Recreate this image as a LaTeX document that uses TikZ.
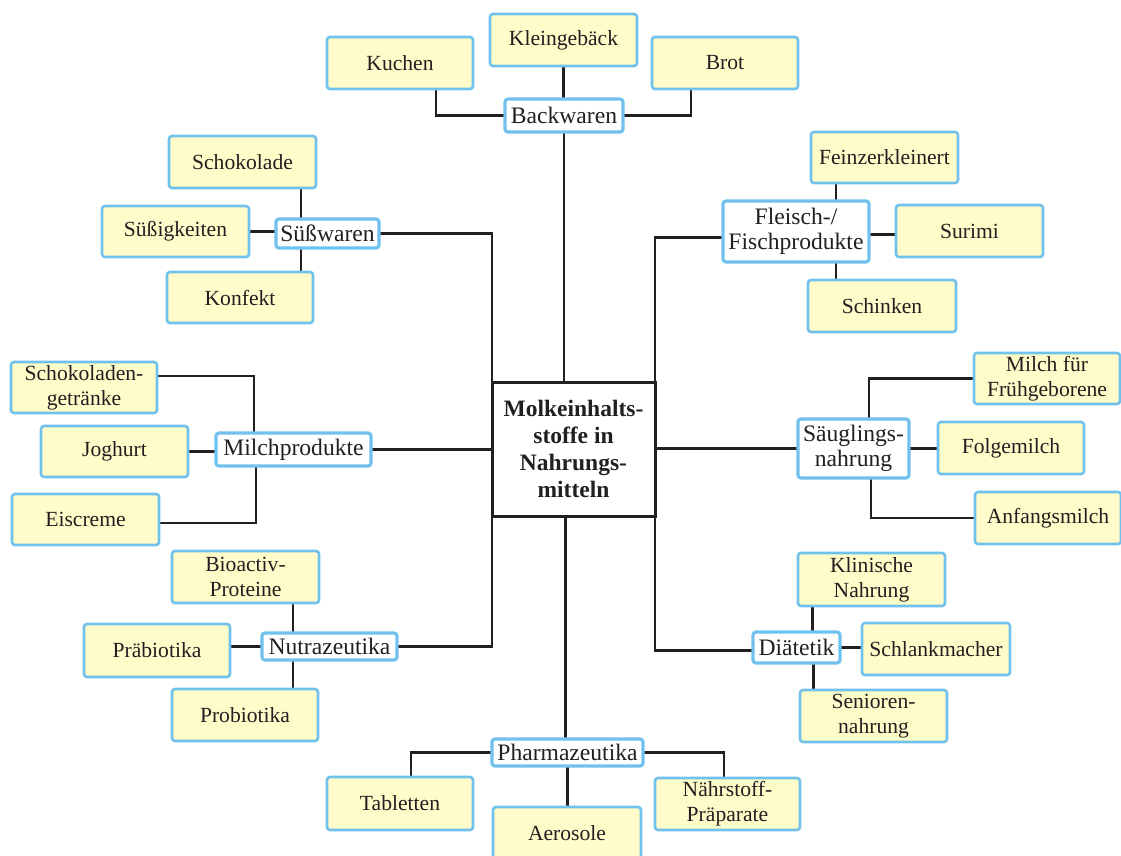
\documentclass[tikz,border=0pt]{standalone}
\usepackage{fontspec}
\setmainfont{Liberation Serif}
\usetikzlibrary{backgrounds}
\definecolor{leaffill}{RGB}{255,252,202}
\definecolor{frameblue}{RGB}{112,194,236}
\definecolor{ink}{RGB}{35,31,32}
\tikzset{
  base/.style={inner sep=0pt, outer sep=0pt, anchor=north west, align=center,
    text=ink, font=\fontsize{21.6}{25}\selectfont},
  leaf/.style={base, draw=frameblue, line width=2.6pt, fill=leaffill, rounded corners=3pt},
  group/.style={base, draw=frameblue, line width=3.2pt, fill=white, rounded corners=3pt,
    font=\fontsize{23.6}{25}\selectfont},
  hub/.style={base, draw=ink, line width=3pt, fill=white,
    font=\bfseries\fontsize{23.5}{27}\selectfont},
  link/.style={line width=2.4pt, draw=ink},
  sz/.style 2 args={minimum width=#1pt, minimum height=#2pt},
}
\begin{document}
\begin{tikzpicture}[x=1pt, y=-1pt]
\useasboundingbox (0,0) rectangle (1121,855);

% central topic
\node[hub, sz={163}{134}] (center) at (492,382) {Molkeinhalts-\\stoffe in\\Nahrungs-\\mitteln};

% Backwaren
\node[group, sz={118}{33}] (back) at (505,99) {Backwaren};
\node[leaf, sz={146}{52}] (kuchen) at (327,37) {Kuchen};
\node[leaf, sz={147}{52}] (klein) at (490,14) {Kleingebäck};
\node[leaf, sz={146}{52}] (brot) at (652,37) {Brot};

% Süßwaren
\node[group, sz={103}{29}] (suess) at (276,219) {Süßwaren};
\node[leaf, sz={147}{52}] (schoko) at (169,136) {Schokolade};
\node[leaf, sz={147}{51}] (suessig) at (102,206) {Süßigkeiten};
\node[leaf, sz={146}{51}] (konfekt) at (167,272) {Konfekt};

% Fleisch-/Fischprodukte
\node[group, sz={146}{61}] (fleisch) at (723,201) {Fleisch-/\\Fischprodukte};
\node[leaf, sz={147}{51}] (feinz) at (811,132) {Feinzerkleinert};
\node[leaf, sz={147}{52}] (surimi) at (896,205) {Surimi};
\node[leaf, sz={148}{52}] (schinken) at (808,280) {Schinken};

% Milchprodukte
\node[group, sz={155}{33}] (milch) at (216,433) {Milchprodukte};
\node[leaf, sz={146}{51}] (schokg) at (11,362) {Schokoladen-\\getränke};
\node[leaf, sz={147}{51}] (joghurt) at (41,426) {Joghurt};
\node[leaf, sz={147}{51}] (eis) at (12,494) {Eiscreme};

% Säuglingsnahrung
\node[group, sz={111}{59}] (saeug) at (798,419) {Säuglings-\\nahrung};
\node[leaf, sz={146}{51}] (frueh) at (974,353) {Milch für\\Frühgeborene};
\node[leaf, sz={146}{52}] (folge) at (938,422) {Folgemilch};
\node[leaf, sz={146}{52}] (anfang) at (975,492) {Anfangsmilch};

% Nutrazeutika
\node[group, sz={135}{27}] (nutra) at (262,633) {Nutrazeutika};
\node[leaf, sz={147}{52}] (bioact) at (172,551) {Bioactiv-\\Proteine};
\node[leaf, sz={146}{53}] (praeb) at (84,624) {Präbiotika};
\node[leaf, sz={146}{52}] (probio) at (172,689) {Probiotika};

% Diätetik
\node[group, sz={87}{31}] (diaet) at (753,632) {Diätetik};
\node[leaf, sz={147}{53}] (klin) at (798,553) {Klinische\\Nahrung};
\node[leaf, sz={148}{52}] (schlank) at (862,623) {Schlankmacher};
\node[leaf, sz={147}{52}] (senior) at (800,690) {Senioren-\\nahrung};

% Pharmazeutika
\node[group, sz={151}{27}] (pharma) at (492,739) {Pharmazeutika};
\node[leaf, sz={146}{53}] (tabl) at (327,777) {Tabletten};
\node[leaf, sz={148}{52}] (aero) at (493,807) {Aerosole};
\node[leaf, sz={145}{52}] (naehr) at (655,778) {Nährstoff-\\Präparate};

\begin{scope}[on background layer={link}]
  % Backwaren branch
  \draw[link] (back.south) -- (back.south |- center.north);
  \draw[link] ([xshift=36pt]kuchen.south) |- (back.west);
  \draw[link] (klein.south) -- (klein.south |- back.north);
  \draw[link] ([xshift=-34pt]brot.south) |- (back.east);
  % Süßwaren branch
  \draw[link] (suess.east) -| (center.north west);
  \draw[link] ([xshift=-26.5pt]suess.north) -- ([xshift=-26.5pt]suess.north |- schoko.south);
  \draw[link] (suessig.east) -- (suessig.east -| suess.west);
  \draw[link] ([xshift=-26.5pt]suess.south) -- ([xshift=-26.5pt]suess.south |- konfekt.north);
  % Fleisch-/Fischprodukte branch
  \draw[link] ([yshift=-6pt]fleisch.west) -| (center.north east);
  \draw[link] ([xshift=40pt]fleisch.north) -- ([xshift=40pt]fleisch.north |- feinz.south);
  \draw[link] ([yshift=-3pt]fleisch.east) -- ([yshift=-3pt]fleisch.east -| surimi.west);
  \draw[link] ([xshift=40pt]fleisch.south) -- ([xshift=40pt]fleisch.south |- schinken.north);
  % Milchprodukte branch
  \draw[link] (milch.east) -- (milch.east -| center.west);
  \draw[link] ([yshift=11.5pt]schokg.east) -| ([xshift=-39.5pt]milch.north);
  \draw[link] (joghurt.east) -- (joghurt.east -| milch.west);
  \draw[link] ([yshift=-3.5pt]eis.east) -| ([xshift=-37.5pt]milch.south);
  % Säuglingsnahrung branch
  \draw[link] (saeug.west) -- (saeug.west -| center.east);
  \draw[link] ([xshift=15.5pt]saeug.north) |- (frueh.west);
  \draw[link] (saeug.east) -- (saeug.east -| folge.west);
  \draw[link] ([xshift=17.5pt]saeug.south) |- (anfang.west);
  % Nutrazeutika branch
  \draw[link] (nutra.east) -| (center.south west);
  \draw[link] ([xshift=-36.5pt]nutra.north) -- ([xshift=-36.5pt]nutra.north |- bioact.south);
  \draw[link] (nutra.west) -- (nutra.west -| praeb.east);
  \draw[link] ([xshift=-36.5pt]nutra.south) -- ([xshift=-36.5pt]nutra.south |- probio.north);
  % Diätetik branch
  \draw[link] ([yshift=-3pt]diaet.west) -| (center.south east);
  \draw[link] ([xshift=16pt]diaet.north) -- ([xshift=16pt]diaet.north |- klin.south);
  \draw[link] (diaet.east) -- (diaet.east -| schlank.west);
  \draw[link] ([xshift=17pt]diaet.south) -- ([xshift=17pt]diaet.south |- senior.north);
  % Pharmazeutika branch
  \draw[link] ([xshift=-2pt]pharma.north) -- ([xshift=-2pt]pharma.north |- center.south);
  \draw[link] ([xshift=11pt]tabl.north) |- (pharma.west);
  \draw[link] (pharma.south) -- (pharma.south |- aero.north);
  \draw[link] ([xshift=-3.5pt]naehr.north) |- (pharma.east);
\end{scope}
\end{tikzpicture}
\end{document}
